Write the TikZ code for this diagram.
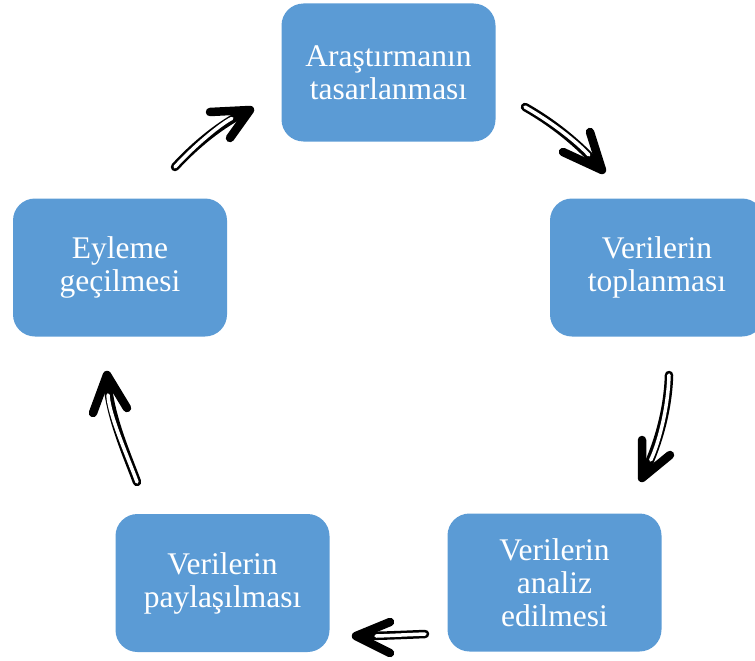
\documentclass[tikz,border=0pt]{standalone}
\usepackage{fontspec}
\setmainfont{Liberation Serif}
\definecolor{stageblue}{HTML}{5B9BD5}
\begin{document}
\begin{tikzpicture}[x=1pt,y=-1pt,
  stage/.style={fill=stageblue, draw=none, rounded corners=22pt,
    minimum width=214pt, minimum height=138pt, inner sep=0pt,
    text=white, align=center, font=\fontsize{31.5}{33}\selectfont},
  shaftouter/.style={black, line width=8.5pt, line cap=round, shorten >=4pt},
  shaftinner/.style={white, line width=3.5pt, line cap=round, shorten >=20pt},
  chevron/.style={black, line width=8.5pt, line cap=round, line join=round}]
\useasboundingbox (0,0) rectangle (755,661);
\clip (0,0) rectangle (755,661);

% the five stages of the cycle
\node[stage] (design)  at (388.5,72.5) {Araştırmanın\\tasarlanması};
\node[stage] (collect) at (657,267.5)  {Verilerin\\toplanması};
\node[stage] (analyse) at (554.5,582.5) {Verilerin\\analiz\\edilmesi};
\node[stage] (share)   at (222.5,583)  {Verilerin\\paylaşılması};
\node[stage] (act)     at (120,267.5)  {Eyleme\\geçilmesi};

% arrow end points
\coordinate (a1s) at (525,107); \coordinate (a1t) at (602,170);
\coordinate (a2s) at (669,375); \coordinate (a2t) at (642,478);
\coordinate (a3s) at (425,634); \coordinate (a3t) at (356,636);
\coordinate (a4s) at (137,482); \coordinate (a4t) at (107,375);
\coordinate (a5s) at (175,167); \coordinate (a5t) at (250,110);

% outlined shafts
\draw[shaftouter] (a1s) .. controls (555,124) and (580,145) .. (a1t);
\draw[shaftouter] (a2s) .. controls (668,410) and (658,445) .. (a2t);
\draw[shaftouter] (a3s) .. controls (400,635) and (380,636) .. (a3t);
\draw[shaftouter] (a4s) .. controls (127,455) and (109,415) .. (a4t);
\draw[shaftouter] (a5s) .. controls (195,145) and (222,123) .. (a5t);

% chevron heads
\draw[chevron] (a1t) ++(-12,-38) -- (a1t) -- ++(-39,-18);
\draw[chevron] (a2t) ++(0,-38) -- (a2t) -- ++(28,-23);
\draw[chevron] (a3t) ++(34,-14) -- (a3t) -- ++(34,17);
\draw[chevron] (a4t) ++(-14,38) -- (a4t) -- ++(20,33);
\draw[chevron] (a5t) ++(-40,2) -- (a5t) -- ++(-20,28);

% hollow interiors
\draw[shaftinner] (a1s) .. controls (555,124) and (580,145) .. (a1t);
\draw[shaftinner] (a2s) .. controls (668,410) and (658,445) .. (a2t);
\draw[shaftinner] (a3s) .. controls (400,635) and (380,636) .. (a3t);
\draw[shaftinner] (a4s) .. controls (127,455) and (109,415) .. (a4t);
\draw[shaftinner] (a5s) .. controls (195,145) and (222,123) .. (a5t);
\end{tikzpicture}
\end{document}
